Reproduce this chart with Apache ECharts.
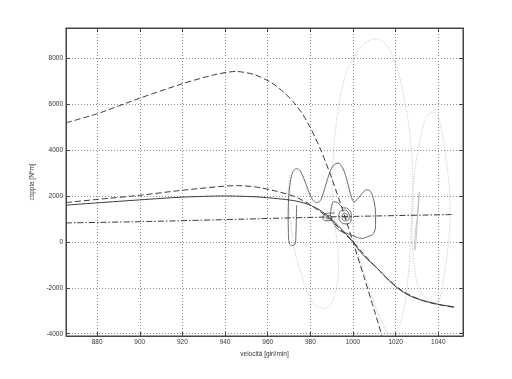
<!DOCTYPE html>
<html><head><meta charset="utf-8">
<script src="https://cdn.jsdelivr.net/npm/echarts@6/dist/echarts.min.js"></script>
<style>html,body{margin:0;padding:0;background:#fff}#c{width:512px;height:379px}</style>
</head><body><div id="c"></div>
<script>
// axis ranges and labels
var xRange = [865.4, 1051.6];
var yRange = [-4100, 9317];
var xLabel = 'velocità [giri/min]';
var yLabel = 'coppia [N*m]';

// static torque characteristics [speed, torque]
var curveA = [[865.4,5190],[880,5580],[900,6260],[920,6890],[935,7280],[945,7425],[954,7280],[962,6920],[968,6480],[972,6100],[976,5620],[980,4980],[985,3980],[990,2780],[995,1430],[1000,0],[1005,-1475],[1010,-2975],[1013.6,-4100]];
var curveB = [[865.4,1713],[880,1850],[900,2030],[920,2250],[940,2430],[946,2450],[954.6,2390],[963,2230],[971.9,2000],[978,1730],[983,1420],[988,1080],[992,740],[996,360],[1000,0],[1004,-420],[1008,-830],[1012,-1220],[1017,-1670],[1022,-2060],[1028,-2380],[1035,-2620],[1042,-2770],[1047.3,-2850]];
var curveC = [[865.4,1600],[880,1700],[900,1830],[920,1950],[940,2000],[955,1960],[965,1880],[972,1800],[978,1670],[983,1460],[988,1150],[992,800],[996,420],[1000,0],[1003,-380],[1007,-780],[1011.5,-1157],[1016,-1600],[1021,-2020],[1026,-2320],[1032,-2535],[1040,-2720],[1047.3,-2826]];
var loadLine = [[865.4,826],[900,880],[940,970],[977,1060],[1000,1110],[1047.3,1191]];

// dynamic trajectories [speed, torque]
var traj1 = [[973.6,1600],[973.4,900],[973.2,200],[972.8,-100],[971.5,-160],[970.2,-60],[969.7,400],[969.6,1200],[969.9,2000],[970.6,2600],[971.8,3050],[973.5,3190],[975.2,3100],[977,2750],[979,2250],[981,1850],[983,1700],[985,1850],[987,2400],[989,3000],[991,3350],[993,3430],[995,3250],[997,2750],[998.8,2100],[1000.5,1750],[1002.5,1900],[1004.5,2150],[1006.5,2270],[1008.2,2200],[1009.8,1800],[1010.6,1200],[1010.6,700],[1009.5,350],[1007.5,250],[1004,150],[1000.5,250],[997,380],[993.5,500],[991,800],[989.5,1150],[989.8,1500],[991,1750],[993,1700],[995,1500],[997.5,1450],[999.2,1200],[999,900],[997,780],[994.5,850],[993.3,1100],[994.2,1350],[996.5,1380],[998.3,1150],[997.5,920],[995.5,930],[994.8,1120],[996,1260],[997.4,1140],[996.8,1020],[995.8,1070],[996.3,1117]];
var traj2 = [[991.5,1300],[990.5,1250],[989,1250],[986.5,1200],[985.8,1060],[986.8,930],[988.8,920],[990.2,1040],[989.2,1150],[987.6,1120],[987.4,1020],[988.6,1000],[988.2,1061]];
var traj3 = [[970.3,2900],[969.6,2100],[970.3,1200],[971.5,300],[973.2,-600],[975.7,-1374],[978,-2050],[980.4,-2535],[983,-2800],[986.2,-2896],[989.5,-2700],[992,-2100],[993.2,-1200],[992.8,-200],[991.3,900],[990.3,2100],[990.6,3400],[991.6,4700],[993.9,6248],[997,7400],[1000.2,7987],[1005,8600],[1010.8,8843],[1015.5,8600],[1019,7987],[1021.8,7200],[1023.7,6391],[1026.3,5000],[1027.9,3300],[1028.2,1813],[1027.7,400],[1028.6,-900],[1030.5,-1900],[1034,-2450],[1037.5,-2650],[1040.3,-2550],[1042.3,-1700],[1044.5,-300],[1045.5,1000],[1045.3,2200],[1043.8,3500],[1041.5,4900],[1039.3,5550],[1037,5650],[1034.5,5450],[1032.3,4800],[1030,3700],[1028.3,2539],[1027.4,1000],[1026.8,-400],[1025.8,-1600],[1024,-2900],[1021.8,-3650],[1019.5,-3970],[1017.5,-4000],[1015.5,-3850],[1012,-3150],[1008,-2100],[1004,-1000],[1001.5,-100],[1000.3,509],[999,1000],[997.8,1250],[996.5,1150]];
var traj4 = [[1030.3,1100],[1030.9,1800],[1031.1,2170],[1030.7,1900],[1030.1,800],[1029.4,-150],[1029.0,-360],[1028.9,-100],[1029.6,700],[1030.3,1100]];

var dark = '#3a3a3a';
function line(data, color, type, width, z, sm) {
  return {type:'line', data:data, showSymbol:false, symbol:'none', smooth:(sm==null?0.35:sm), clip:true, z:z||3,
          lineStyle:{color:color, width:width||1, type:type||'solid'}};
}
var chart = echarts.init(document.getElementById('c'), null, {renderer:'canvas'});
var font = 'Liberation Sans, Arial, sans-serif';
var gridLine = {show:true, lineStyle:{color:'#8c8c8c', type:[1,2], width:1}};
var labelStyle = {color:'#333', fontSize:6.5, fontFamily:font, showMinLabel:false, showMaxLabel:false,
                  formatter:function(v){return String(Math.round(v));}};
var axLine = {show:true, onZero:false, lineStyle:{color:'#444'}};
var axTick = {show:true, inside:true, length:4, lineStyle:{color:'#444'}};
chart.setOption({
  animation:false,
  backgroundColor:'#fff',
  grid:{left:66, top:28, width:397, height:308, show:true, borderColor:'#444', borderWidth:1, backgroundColor:'#fff'},
  xAxis:[{type:'value', min:xRange[0], max:xRange[1], minInterval:20, maxInterval:20,
          name:xLabel, nameLocation:'middle', nameGap:9, nameTextStyle:{color:'#333', fontSize:6.5, fontFamily:font},
          axisLine:axLine, axisTick:axTick, axisLabel:Object.assign({margin:3}, labelStyle), splitLine:gridLine},
         {type:'value', position:'top', min:xRange[0], max:xRange[1], minInterval:20, maxInterval:20,
          axisLine:axLine, axisTick:axTick, axisLabel:{show:false}, splitLine:{show:false}}],
  yAxis:[{type:'value', min:yRange[0], max:yRange[1], minInterval:2000, maxInterval:2000,
          name:yLabel, nameLocation:'middle', nameGap:19, nameRotate:90, nameTextStyle:{color:'#333', fontSize:6.5, fontFamily:font},
          axisLine:axLine, axisTick:axTick, axisLabel:Object.assign({margin:3}, labelStyle), splitLine:gridLine},
         {type:'value', position:'right', min:yRange[0], max:yRange[1], minInterval:2000, maxInterval:2000,
          axisLine:axLine, axisTick:axTick, axisLabel:{show:false}, splitLine:{show:false}}],
  series:[
    line(traj3, '#c2c2c2', [1,1.5], 1, 2),
    line(traj4, '#b0b0b0', 'solid', 0.7, 2),
    line(traj1, '#6a6a6a', 'solid', 1, 3),
    line(traj2, '#6a6a6a', 'solid', 1, 3),
    line(loadLine, dark, [6,2,1.5,2], 1, 4, 0.2),
    line(curveC, dark, 'solid', 1, 4, 0.25),
    line(curveB, dark, [6,3], 1, 4, 0.25),
    line(curveA, dark, [6,3], 1, 4, 0.25)
  ]
});
</script></body></html>
